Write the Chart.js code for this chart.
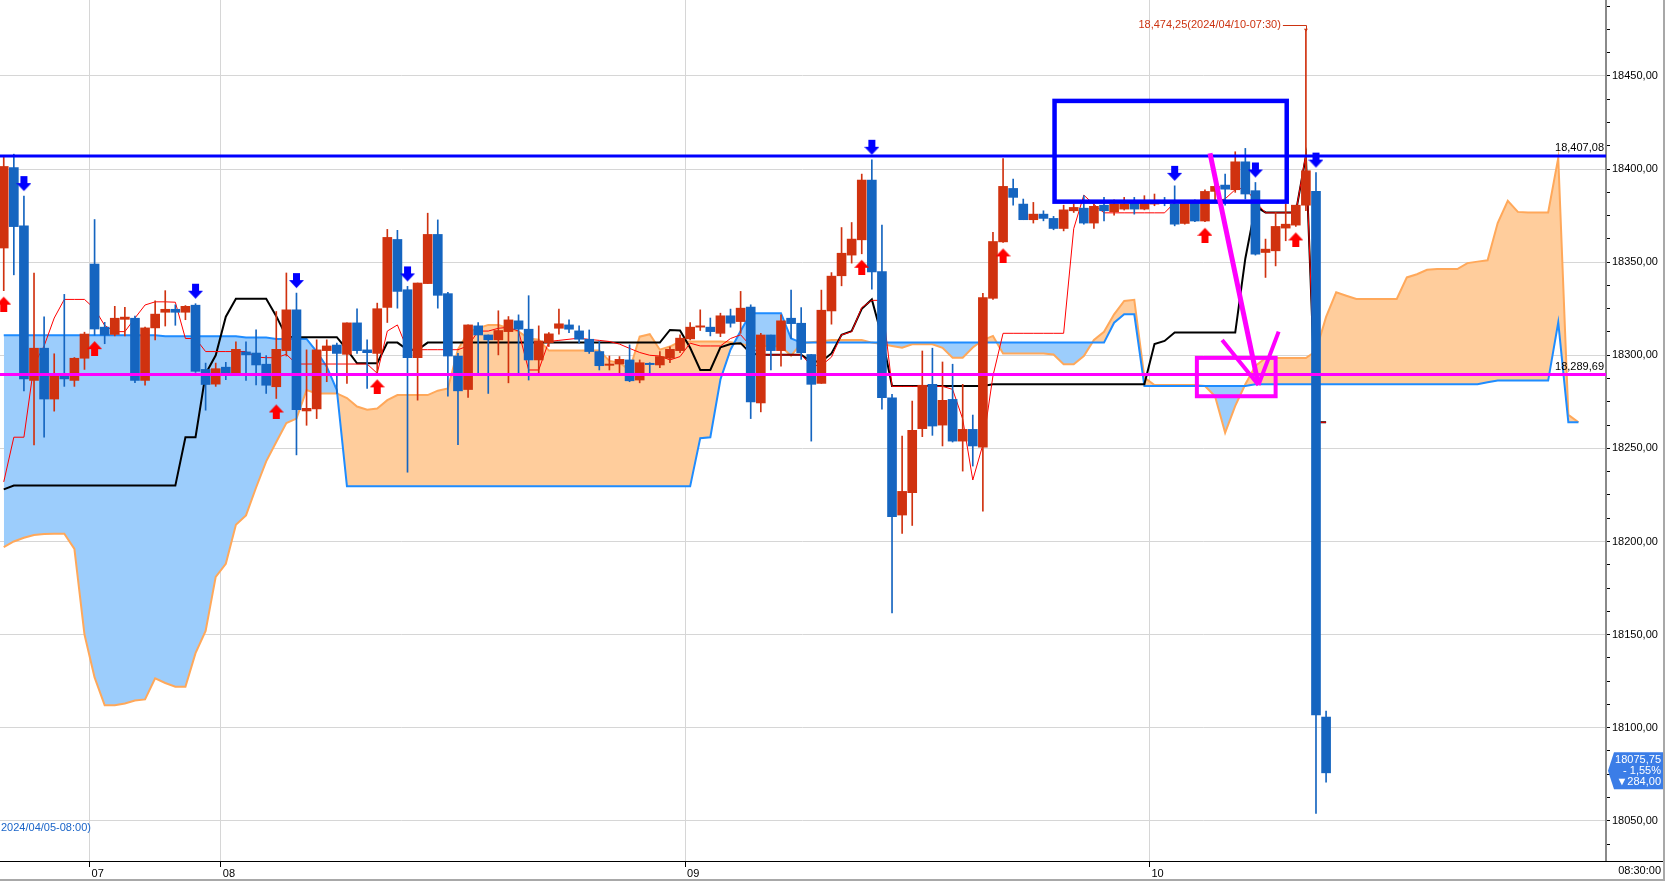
<!DOCTYPE html>
<html>
<head>
<meta charset="utf-8">
<script src="https://cdn.jsdelivr.net/npm/chart.js@4.4.1/dist/chart.umd.min.js"></script>
<style>
  html, body { margin: 0; padding: 0; background: #fff; }
  #wrap { width: 1668px; height: 881px; position: relative; }
</style>
</head>
<body>
<div id="wrap"><canvas id="chart"></canvas></div>
<script>
// 30 minute candles, index 0 = 04/05 12:30, index 131 = 04/10 08:30
const openP = [18357.6,18400.8,18369.5,18286.5,18303.8,18276.5,18288.9,18286.5,18298.4,18349,
  18315.1,18311.2,18319.3,18319.9,18286.5,18314.7,18323.1,18324.7,18323.1,18326.9,
  18292.4,18284.5,18293.6,18290.2,18301.8,18301.2,18295.2,18283.1,18302.5,18324.4,
  18270.1,18271.2,18302.5,18305.5,18300.5,18317.4,18302.9,18301,18325.7,18362.2,
  18335.2,18298.7,18338.5,18364.9,18333.1,18299.6,18281.6,18315.8,18310.9,18308.3,
  18312.7,18318.5,18314,18297.5,18306.8,18314.5,18316.3,18313.1,18308.6,18302,
  18294.6,18295.3,18297.5,18286.7,18295.7,18294.8,18298.4,18302.5,18308.8,18315.1,
  18315.1,18311.8,18321.2,18318.1,18325.9,18274.4,18310.9,18302.5,18319.9,18317.2,
  18300.4,18284.9,18323.8,18342.7,18353.8,18362,18394.1,18345,18277.2,18214.2,
  18226.2,18260.6,18284.4,18262.5,18276.3,18253.9,18260.2,18250.7,18330.6,18360.9,
  18389.6,18381.2,18372.8,18375.8,18373.5,18368.1,18377.6,18379,18371,18380.6,
  18377.1,18378.5,18381.7,18378.5,18381.2,18383,18381.2,18370.8,18381.7,18372.1,
  18388,18391.4,18388.9,18403.9,18388.4,18355.2,18356.1,18368.3,18369.9,18380.6,
  18388,18105.7];
const highP = [18407,18408,18385.5,18344.2,18320.7,18300.8,18332.7,18298.8,18312.4,18372.9,
  18317.7,18326.3,18325.7,18321.1,18315.1,18329.3,18334.7,18327.1,18326.7,18327.7,
  18295.8,18295.8,18296.2,18307.2,18307.2,18313.7,18299.8,18323.5,18344.2,18333.4,
  18302.9,18308.3,18308.3,18306.5,18317.4,18325,18308.3,18328,18367.6,18367.1,
  18337,18338.8,18376.3,18372.7,18333.8,18301,18316.3,18317.6,18310.9,18323.9,
  18320.8,18321.7,18332,18315.8,18312.2,18324.8,18319,18315.8,18313.6,18307.4,
  18299.6,18299.3,18305.6,18297.5,18296,18302,18304.6,18311,18317.6,18324.4,
  18320,18322.6,18324.8,18334.3,18327.1,18311.8,18310.9,18321.7,18335,18325.6,
  18300.4,18335,18344.4,18368.6,18371.3,18397.3,18405,18369.9,18279,18256.6,
  18275.4,18302.3,18303.8,18296.4,18295.2,18284.4,18267.9,18333.3,18366,18405.7,
  18394.6,18383.9,18382.1,18377.6,18374.6,18380.6,18381.2,18385.7,18381.2,18384.8,
  18383.5,18384.8,18384.8,18385.7,18386.6,18384.8,18391,18383,18383.5,18388.9,
  18394.6,18397.3,18409.3,18411.1,18392.8,18362.4,18376.7,18381.2,18380.6,18474.25,
  18398.1,18108.9];
const lowP = [18334.7,18343.2,18280.9,18251.8,18256,18270,18283.3,18283.3,18292.4,18310.8,
  18306.2,18310.4,18310.4,18285.3,18283.9,18308.2,18315.7,18316.1,18319.1,18290.8,
  18270.5,18283.3,18286.9,18289.6,18286.5,18284.1,18279.5,18276.8,18299.6,18246.5,
  18262.4,18266,18285.8,18279.5,18284.9,18301,18282.2,18290.3,18317.6,18325.3,
  18237.2,18275.9,18338.5,18325.3,18278,18252,18277.3,18290.3,18279.5,18300.2,
  18285.2,18290.6,18286.7,18290.3,18304.7,18311.3,18312.2,18306.5,18301,18292.1,
  18292.1,18290.3,18285.8,18285.2,18290.3,18293.3,18296,18301.4,18308.3,18313.3,
  18310.4,18310,18315.1,18311.8,18266,18269.6,18292.1,18294.2,18309,18297.8,
  18253.9,18284.9,18316.7,18337.3,18349.5,18354.5,18335.5,18271,18161.6,18204.3,
  18208.6,18256.3,18257,18251.3,18253.4,18237.8,18240.5,18216.3,18330,18360.6,
  18380.6,18372.8,18371,18372.2,18367.4,18366.8,18376.7,18370.4,18368.1,18372.2,
  18375.3,18378,18375.8,18378.1,18380.3,18380.3,18369.5,18370.4,18371.7,18371.7,
  18383,18380.6,18387.5,18383.9,18353.8,18341.8,18348,18361.5,18369.2,18377.6,
  18054,18070.8];
const closeP = [18401.4,18369.1,18287.3,18303.8,18276.5,18288.9,18287.3,18298.4,18311.4,18314.1,
  18310.8,18319.9,18320.5,18286.5,18314.7,18322.1,18324.7,18323.1,18326.3,18291.4,
  18284.3,18292.8,18290.2,18303.2,18300.2,18294.8,18283.9,18303.2,18324.4,18270.8,
  18271.5,18302.9,18305,18301,18317.4,18302.5,18301.4,18325,18363.3,18334.3,
  18298.7,18338.8,18364.9,18332.2,18299.6,18280.9,18316.3,18310.9,18308.3,18313.3,
  18319,18314,18297.5,18307.7,18311.5,18316.9,18314,18308.6,18302,18294.4,
  18295.3,18297.8,18286.3,18296,18295,18299.3,18303.2,18309.2,18315.1,18315.8,
  18312.7,18321.2,18317.2,18325.3,18275,18310.9,18302.5,18318.5,18317,18301.4,
  18284.4,18324.2,18342.5,18354.8,18362.4,18394.1,18344.8,18277.2,18213.3,18226.9,
  18259.7,18283.9,18262,18275.8,18253.9,18260.2,18251.3,18331,18361.1,18390.7,
  18384.8,18372.8,18375.8,18373.5,18368.1,18378.1,18379.4,18371,18380,18377.6,
  18381.2,18381.2,18378.5,18381.7,18383,18381.7,18370.4,18381.7,18372.1,18388,
  18390.7,18389.2,18403.9,18386.6,18354.3,18357,18369.2,18370.4,18380.6,18399.1,
  18106.9,18075.75];

// conversion line (red) and base line (black)
const tenkan = [18232,18256,18256,18295,18305,18320,18330,18330,18330,18325,
  18316,18312.7,18312.7,18320,18327,18328.7,18328.7,18328.5,18309,18309,
  18302,18302,18302,18302,18302,18299,18298.7,18298.7,18300.5,18295.3,
  18295.3,18295.3,18295.3,18295.3,18295.3,18295.3,18295.3,18290.3,18313,18316.3,
  18302.9,18303,18303,18303,18303,18303,18305,18313,18313,18314.5,
  18315,18313,18292.1,18292.1,18307.4,18308,18308.6,18309.2,18308.5,18308,
  18307.4,18306,18303.7,18301.5,18300,18299.6,18297.5,18299.3,18306.5,18305,
  18305,18305,18309,18311,18305,18300.2,18300.2,18300.2,18300.2,18300.2,
  18294.5,18294.5,18299,18311,18312.6,18325.6,18329.5,18329.5,18283.3,18283.3,
  18283.3,18283.3,18283.3,18283.3,18281.7,18265.8,18233,18252,18289,18311.8,
  18311.8,18311.8,18311.8,18311.8,18311.8,18311.8,18368,18386,18381,18376.5,
  18376.5,18376.5,18376.5,18376.5,18376.5,18376.5,18382,18382.5,18382.5,18382.5,
  18382.5,18384,18389,18390,18382.5,18376.5,18376.5,18376.5,18376.5,18408,
  18264,18264];
const kijun = [18228,18230,18230,18230,18230,18230,18230,18230,18230,18230,
  18230,18230,18230,18230,18230,18230,18230,18230,18256,18256,
  18290,18300,18320.7,18330.3,18330.3,18330.3,18330.3,18321,18310,18309.7,
  18309.7,18309.7,18309.7,18309.7,18303,18295.7,18295.7,18295.7,18306.8,18306.8,
  18302.9,18302.9,18306.8,18306.8,18306.8,18306.8,18306.8,18306.8,18306.8,18306.8,
  18306.8,18306.8,18306.8,18306.8,18306.8,18306.8,18306.8,18306.8,18306.8,18306.8,
  18306.8,18306.8,18306.8,18306.8,18306.8,18306.8,18313.6,18313.3,18304,18292.1,
  18292.1,18304.3,18306,18306.5,18301,18300.3,18300.3,18300.3,18300.3,18300.3,
  18296.6,18296.6,18301,18311,18313,18325,18330,18310,18283.5,18283.5,
  18283.5,18283.5,18283.5,18283.5,18283.5,18283.5,18283.5,18283.5,18284.4,18284.4,
  18284.4,18284.4,18284.4,18284.4,18284.4,18284.4,18284.4,18284.4,18284.4,18284.4,
  18284.4,18284.4,18284.4,18284.4,18306,18307.7,18312.2,18312.2,18312.2,18312.2,
  18312.2,18312.2,18312.2,18352,18380,18376.7,18376.7,18376.7,18376.7,18407,
  18264,18264];

// leading spans, already shifted forward (index 0..156)
const spanA = [18197,18200,18202,18203.5,18204,18204.2,18204.2,18196,18150,18127,
  18112,18112,18113,18114.6,18115.2,18126.5,18124,18122,18122,18140,
  18152,18181,18188,18209,18214,18229,18243,18253.4,18263.6,18266,
  18281.3,18279.5,18279.5,18279.5,18277,18272.5,18270.8,18271.4,18275.9,18278.6,
  18278.6,18278.6,18278.6,18281,18282.2,18303.2,18312.4,18314.5,18316.3,18316.3,
  18314.5,18312.8,18309,18308.3,18302.5,18302.5,18302.5,18302.5,18302.5,18302.5,
  18297,18296,18292,18310,18311.3,18303,18304.7,18307.4,18307.4,18307.4,
  18307.4,18307.4,18307,18306,18305,18305,18305,18304.7,18299.7,18306.5,
  18307,18307.5,18308.2,18308.2,18308.2,18308.2,18306.8,18306,18305,18304.1,
  18305.9,18305.9,18305.9,18304,18298.7,18298.7,18304.2,18308.2,18310.4,18300.9,
  18300.9,18300.9,18300.9,18300.9,18300.4,18295.2,18295.2,18299.6,18308.2,18312.6,
  18322,18329.2,18329.8,18288,18284,18284,18284,18284,18284,18283.5,
  18278,18258.4,18272.8,18284.4,18294.3,18298.5,18298.5,18298.5,18298.5,18298.5,
  18302.3,18320.6,18333.8,18332,18330.2,18330.2,18330.2,18330.2,18330.2,18341.8,
  18343.5,18345.9,18346.3,18346.3,18346.3,18349.5,18350.3,18351,18371,18383,
  18377,18376.7,18376.7,18376.7,18406,18268,18264];
const spanB = [18310.8,18310.8,18310.8,18310.8,18310.8,18310.8,18310.8,18310.8,18310.8,18310.8,
  18310.8,18310.8,18310.8,18310.8,18310.8,18310.8,18310.2,18310.2,18310.2,18310.2,
  18310.2,18310.2,18310.2,18310.2,18309.5,18309.5,18309.5,18308.8,18308.8,18308.8,
  18308.8,18302,18293.9,18281.3,18229.6,18229.6,18229.6,18229.6,18229.6,18229.6,
  18229.6,18229.6,18229.6,18229.6,18229.6,18229.6,18229.6,18229.6,18229.6,18229.6,
  18229.6,18229.6,18229.6,18229.6,18229.6,18229.6,18229.6,18229.6,18229.6,18229.6,
  18229.6,18229.6,18229.6,18229.6,18229.6,18229.6,18229.6,18229.6,18229.6,18255.5,
  18256,18287,18303,18313,18322.6,18322.6,18322.6,18322.6,18309,18306.8,
  18306.8,18306.8,18306.8,18306.8,18306.8,18306.8,18306.8,18306.8,18306.8,18306.8,
  18306.8,18306.8,18306.8,18306.8,18306.8,18306.8,18306.8,18306.8,18306.8,18306.8,
  18306.8,18306.8,18306.8,18306.8,18306.8,18306.8,18306.8,18306.8,18306.8,18306.8,
  18317.5,18322,18322,18283.5,18283.5,18283.5,18283.5,18283.5,18283.5,18283.5,
  18283.5,18283.5,18283.5,18283.5,18284.4,18284.4,18284.4,18284.4,18284.4,18284.4,
  18284.4,18284.4,18284.4,18284.4,18284.4,18284.4,18284.4,18284.4,18284.4,18284.4,
  18284.4,18284.4,18284.4,18284.4,18284.4,18284.4,18284.4,18285.5,18286.4,18286.4,
  18286.4,18286.4,18286.4,18286.4,18317.7,18264,18264];

// signal arrows (candle indices)
const upSignals = [0, 9, 27, 37, 85, 99, 119, 128];
const downSignals = [2, 19, 29, 40, 86, 116, 124, 130];

// x axis: first candle of each day
const dayLabels = ['07', '08', '09', '10'];
const dayStarts = [9, 22, 68, 114];

// y axis: labelled prices and minor tick step
const yLabelValues = [18050, 18100, 18150, 18200, 18250, 18300, 18350, 18400, 18450];
const yMinorStep = 12.5;

// drawn lines / boxes (price levels and candle indices)
const levelValues = [18407.08, 18289.69];
const levelLabels = ['18,407,08', '18,289,69'];
const blueBox = { x0: 104.1, x1: 127.1, y0: 18436.6, y1: 18382.5 };
const pinkBox = { x0: 118.2, x1: 126.0, y0: 18298.6, y1: 18278 };
const pinkArrow = { from: [119.5, 18408.5], to: [124.3, 18284], armL: [120.7, 18308.2], armR: [126.3, 18312.7] };
const highIdx = 129;
const highText = '18,474,25(2024/04/10-07:30)';
const lowText = '2024/04/05-08:00)';
const lowTextPrice = 18046;
const lastText = ['18075,75', '- 1,55%', '\u25BC284,00'];
const lastTime = '08:30:00';

const X_MIN = -0.37, X_MAX = 158.73;
const Y_MIN = 18028.4, Y_MAX = 18490.8;
const UP = '#d0320f', DN = '#1565c0';
const FONT = '11px "Liberation Sans", "DejaVu Sans", sans-serif';

Chart.defaults.font.family = '"Liberation Sans", "DejaVu Sans", sans-serif';
Chart.defaults.font.size = 11;
Chart.defaults.color = '#000';

const candleColors = closeP.map((c, i) => (c >= openP[i] ? UP : DN));
const isLabelled = v => yLabelValues.some(l => Math.abs(l - v) < 1e-6);

function arrowImage(up, color) {
  const w = 15, h = 42;
  const c = document.createElement('canvas');
  c.width = w; c.height = h;
  const g = c.getContext('2d');
  g.fillStyle = color;
  g.beginPath();
  if (up) {
    g.moveTo(7.5, 27); g.lineTo(15, 35); g.lineTo(11, 35); g.lineTo(11, 42);
    g.lineTo(4, 42); g.lineTo(4, 35); g.lineTo(0, 35);
  } else {
    g.moveTo(4, 1); g.lineTo(11, 1); g.lineTo(11, 8); g.lineTo(15, 8);
    g.lineTo(7.5, 16); g.lineTo(0, 8); g.lineTo(4, 8);
  }
  g.closePath();
  g.fill();
  return c;
}

const overlay = {
  id: 'overlay',
  afterDatasetsDraw(chart) {
    const { ctx, chartArea: a, scales: { x, y } } = chart;
    const px = v => x.getPixelForValue(v), py = v => y.getPixelForValue(v);
    ctx.save();
    ctx.beginPath(); ctx.rect(a.left, a.top, a.right - a.left, a.bottom - a.top); ctx.clip();

    // level lines
    const lc = ['#0000ff', '#ff00ff'];
    levelValues.forEach((lv, k) => {
      const yy = py(lv);
      ctx.strokeStyle = lc[k]; ctx.lineWidth = 3;
      ctx.beginPath(); ctx.moveTo(a.left, yy); ctx.lineTo(a.right, yy); ctx.stroke();
      ctx.fillStyle = '#000'; ctx.font = FONT; ctx.textAlign = 'right'; ctx.textBaseline = 'bottom';
      ctx.fillText(levelLabels[k], a.right - 2, yy - 2);
    });

    // boxes
    ctx.lineWidth = 4.5; ctx.strokeStyle = '#0000ff';
    ctx.strokeRect(px(blueBox.x0), py(blueBox.y0), px(blueBox.x1) - px(blueBox.x0), py(blueBox.y1) - py(blueBox.y0));
    ctx.lineWidth = 4; ctx.strokeStyle = '#ff00ff';
    ctx.strokeRect(px(pinkBox.x0), py(pinkBox.y0), px(pinkBox.x1) - px(pinkBox.x0), py(pinkBox.y1) - py(pinkBox.y0));

    // pink arrow
    const P = p => [px(p[0]), py(p[1])];
    const f = P(pinkArrow.from), t = P(pinkArrow.to), l = P(pinkArrow.armL), r = P(pinkArrow.armR);
    ctx.lineWidth = 5;
    ctx.beginPath(); ctx.moveTo(f[0], f[1]); ctx.lineTo(t[0], t[1]); ctx.stroke();
    ctx.lineWidth = 4;
    ctx.beginPath(); ctx.moveTo(l[0], l[1]); ctx.lineTo(t[0], t[1]); ctx.moveTo(r[0], r[1]); ctx.lineTo(t[0], t[1]); ctx.stroke();

    // high price label
    const hx = px(highIdx), hy = py(highP[highIdx]);
    ctx.font = FONT; ctx.fillStyle = '#cc3311'; ctx.strokeStyle = '#cc3311'; ctx.lineWidth = 1;
    ctx.textAlign = 'right'; ctx.textBaseline = 'middle';
    ctx.fillText(highText, hx - 25, hy - 6);
    ctx.beginPath(); ctx.moveTo(hx - 23, Math.round(hy - 6) + 0.5); ctx.lineTo(Math.round(hx) + 0.5, Math.round(hy - 6) + 0.5);
    ctx.lineTo(Math.round(hx) + 0.5, hy); ctx.stroke();
    ctx.beginPath(); ctx.moveTo(hx - 2, hy - 2); ctx.lineTo(hx + 2, hy - 2); ctx.lineTo(hx, hy + 1); ctx.fill();

    // old low label at the left edge
    ctx.fillStyle = '#1a64c8'; ctx.textAlign = 'left';
    ctx.fillText(lowText, a.left + 1, py(lowTextPrice));
    ctx.restore();
  },
  afterDraw(chart) {
    const { ctx, chartArea: a, scales: { y } } = chart;
    ctx.save();
    // frame lines
    ctx.strokeStyle = '#000'; ctx.lineWidth = 1;
    ctx.beginPath(); ctx.moveTo(0, a.bottom + 0.5); ctx.lineTo(1664, a.bottom + 0.5); ctx.stroke();
    ctx.strokeStyle = '#a8a8a8'; ctx.lineWidth = 2;
    ctx.beginPath(); ctx.moveTo(1664, 0); ctx.lineTo(1664, 881); ctx.stroke();
    ctx.beginPath(); ctx.moveTo(0, 880); ctx.lineTo(1664, 880); ctx.stroke();

    // last price box
    const cy = y.getPixelForValue(closeP[closeP.length - 1]) - 2;
    ctx.fillStyle = '#3b7de7';
    ctx.beginPath();
    ctx.moveTo(1608, cy); ctx.lineTo(1614, cy - 18.5); ctx.lineTo(1663, cy - 18.5);
    ctx.lineTo(1663, cy + 18.5); ctx.lineTo(1614, cy + 18.5); ctx.closePath(); ctx.fill();
    ctx.fillStyle = '#fff'; ctx.font = FONT; ctx.textAlign = 'right'; ctx.textBaseline = 'middle';
    lastText.forEach((s, k) => ctx.fillText(s, 1661, cy - 11 + k * 11));

    // time at the end of the x axis
    ctx.fillStyle = '#000'; ctx.textAlign = 'right';
    ctx.fillText(lastTime, 1661, 871);
    ctx.restore();
  }
};

const xy = arr => arr.map((v, i) => ({ x: i, y: v }));

new Chart(document.getElementById('chart'), {
  type: 'bar',
  data: {
    datasets: [
      { type: 'line', label: 'spanB', data: xy(spanB), borderColor: '#1e8cff', borderWidth: 2,
        pointRadius: 0, tension: 0, fill: false, order: 20 },
      { type: 'line', label: 'spanA', data: xy(spanA), borderColor: '#ffa85a', borderWidth: 2,
        pointRadius: 0, tension: 0, order: 21,
        fill: { target: 0, above: '#ffcd9c', below: '#9ccdfc' } },
      { type: 'line', label: 'kijun', data: xy(kijun), borderColor: '#000', borderWidth: 2,
        pointRadius: 0, tension: 0, fill: false, order: 10 },
      { type: 'line', label: 'tenkan', data: xy(tenkan), borderColor: '#ff0000', borderWidth: 1,
        pointRadius: 0, tension: 0, fill: false, order: 9 },
      { label: 'wick', data: lowP.map((l, i) => ({ x: i, y: [l, highP[i]] })), backgroundColor: candleColors,
        barThickness: 1, grouped: false, borderWidth: 0, order: 2 },
      { label: 'body', data: openP.map((o, i) => ({ x: i, y: [o, closeP[i]] })), backgroundColor: candleColors,
        barThickness: 9, grouped: false, borderWidth: 0, minBarLength: 1, order: 1 },
      { type: 'line', label: 'up', data: upSignals.map(i => ({ x: i, y: lowP[i] })), showLine: false,
        pointStyle: arrowImage(true, '#ff0000'), pointRadius: 8, order: 0 },
      { type: 'line', label: 'down', data: downSignals.map(i => ({ x: i, y: highP[i] })), showLine: false,
        pointStyle: arrowImage(false, '#0000ff'), pointRadius: 8, order: 0 }
    ]
  },
  options: {
    responsive: true,
    maintainAspectRatio: false,
    animation: false,
    devicePixelRatio: 1,
    events: [],
    layout: { padding: 0, autoPadding: false },
    plugins: { legend: { display: false }, tooltip: { enabled: false } },
    scales: {
      x: {
        type: 'linear', min: X_MIN, max: X_MAX, offset: false,
        afterBuildTicks: s => { s.ticks = dayStarts.map(d => ({ value: d - 0.5 })); },
        afterFit: s => { s.height = 20; s.paddingLeft = 0; s.paddingRight = 0; },
        ticks: { autoSkip: false, maxRotation: 0, minRotation: 0, align: 'start', labelOffset: 2, padding: 0,
          color: '#000', callback: (v, i) => dayLabels[i] },
        grid: { color: '#d6d6d6', tickLength: 6, tickColor: '#000', offset: false },
        border: { display: false }
      },
      y: {
        position: 'right', min: Y_MIN, max: Y_MAX,
        afterBuildTicks: s => {
          const t = [];
          for (let v = yLabelValues[0] - yMinorStep; v < Y_MAX; v += yMinorStep) t.push({ value: v });
          s.ticks = t;
        },
        afterFit: s => { s.width = 62; s.paddingTop = 0; s.paddingBottom = 0; },
        ticks: { autoSkip: false, padding: 2, color: '#000',
          callback: v => (isLabelled(v) ? v.toFixed(2).replace('.', ',') : '') },
        grid: { color: c => (c.tick && isLabelled(c.tick.value) ? '#d6d6d6' : 'rgba(0,0,0,0)'),
          tickLength: 4, tickColor: '#000' },
        border: { color: '#8a8a8a', width: 2 }
      }
    }
  },
  plugins: [overlay]
});
</script>
</body>
</html>
